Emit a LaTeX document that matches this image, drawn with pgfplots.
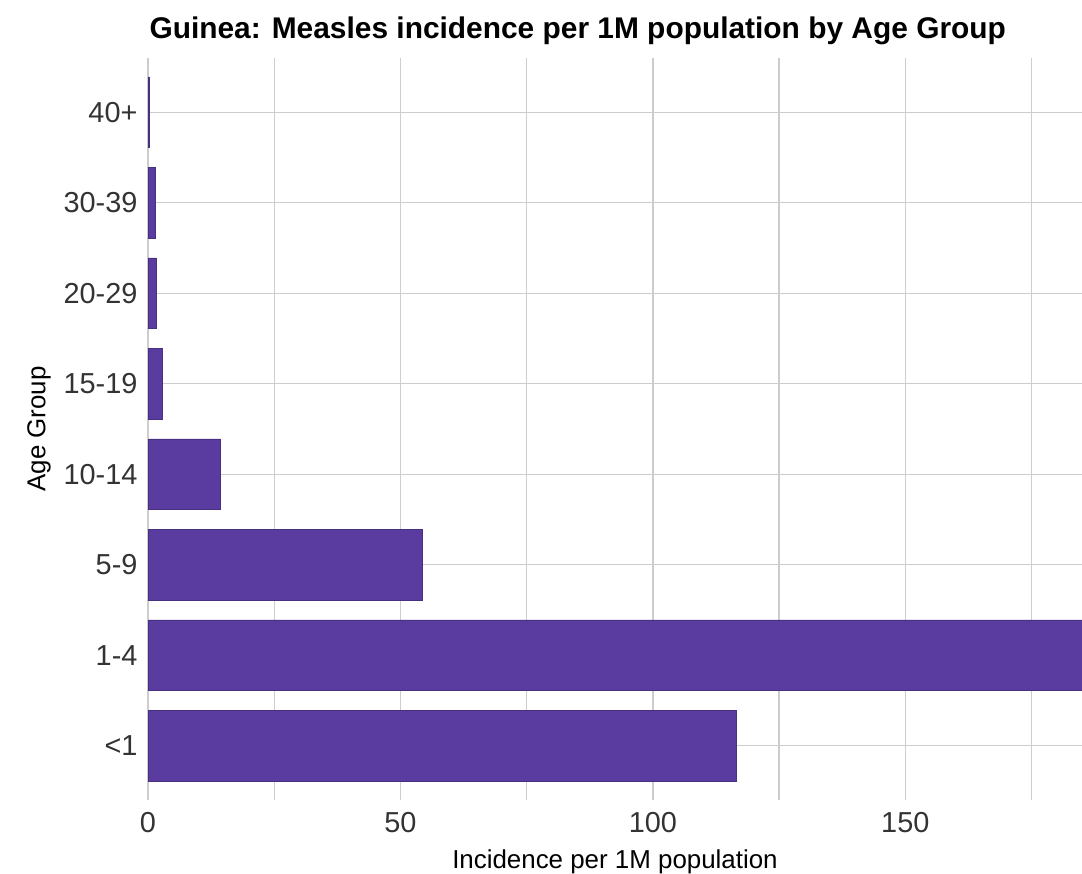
\documentclass[border=0pt]{standalone}
\usepackage{pgfplots}
\pgfplotsset{compat=1.18}
\usepackage{fontspec}
\setmainfont{Liberation Sans}
\definecolor{barc}{RGB}{90,60,160}
\definecolor{gridc}{RGB}{205,205,205}
\definecolor{txt}{RGB}{51,51,51}
\begin{document}
\begin{tikzpicture}
\useasboundingbox (0,0) rectangle (1082bp,874bp);
\begin{axis}[
  at={(148bp,74bp)}, anchor=south west,
  width=934bp, height=742bp, scale only axis,
  xmin=0, xmax=185, ymin=-0.6, ymax=7.6,
  axis line style={draw=none},
  major tick length=0pt, minor tick length=0pt,
  xtick={0,50,100,150}, minor xtick={25,75,125,175},
  ytick={0,...,7},
  yticklabels={<1,1-4,5-9,10-14,15-19,20-29,30-39,40+},
  grid=both,
  major grid style={gridc, line width=1.3bp},
  minor grid style={gridc, line width=1.3bp},
  /pgf/number format/assume math mode=true,
  tick label style={font=\fontsize{29}{34}\selectfont, text=txt},
  xticklabel style={yshift=-9bp},
  yticklabel style={xshift=-7bp},
  xlabel={Incidence per 1M population},
  ylabel={Age Group},
  label style={font=\fontsize{26}{30}\selectfont, text=black},
  xlabel style={yshift=-10bp},
  ylabel style={yshift=6bp},
  title={\bfseries Guinea: Measles incidence per 1M population by Age Group},
  title style={font=\fontsize{30}{34}\selectfont, at={(0,1)}, anchor=south west, yshift=4bp, xshift=-2bp},
]
\addplot[xbar, bar width=0.78, fill=barc, draw=barc!80!black, line width=0.5bp] coordinates {
  (116.6,0) (190,1) (54.4,2) (14.3,3) (2.8,4) (1.6,5) (1.4,6) (0.2,7)
};
\end{axis}
\end{tikzpicture}
\end{document}
